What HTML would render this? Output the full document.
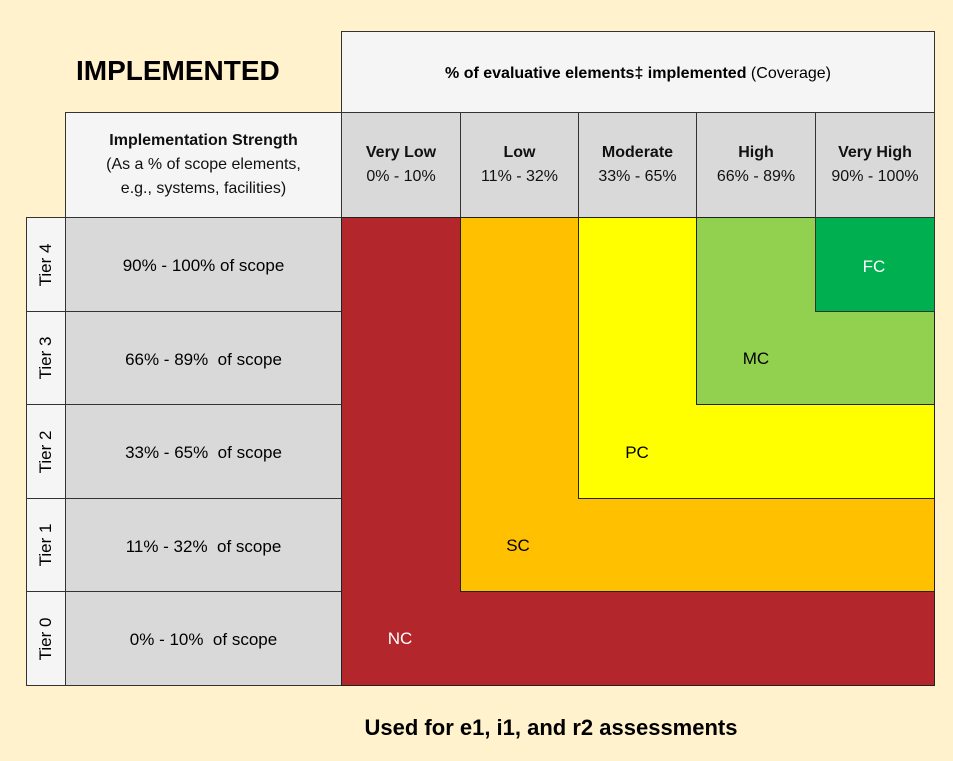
<!DOCTYPE html>
<html><head><meta charset="utf-8"><style>
body{margin:0;width:953px;height:761px;background:#FFF2CC;position:relative;overflow:hidden;font-family:"Liberation Sans",Arial,sans-serif;}
.a{position:absolute;box-sizing:border-box;}
.c{display:flex;align-items:center;justify-content:center;text-align:center;}
.g{background:#D9D9D9;border:1px solid #333;}
.w{background:#F5F5F5;border:1px solid #333;}
.t{position:absolute;transform:translate(-50%,-50%);font-size:17px;white-space:nowrap;}
.h{font-size:16px;line-height:24px;color:#111;}
</style></head><body>
<div class="a" style="left:76px;top:55px;font-size:28px;font-weight:bold;">IMPLEMENTED</div>
<div class="a w c" style="left:341px;top:31px;width:594px;height:82px;font-size:16px;padding-top:3px;"><span><b>% of evaluative elements‡ implemented</b> (Coverage)</span></div>
<div class="a w c h" style="left:65px;top:112px;width:277px;height:106px;"><span><b>Implementation Strength</b><br>(As a % of scope elements,<br>e.g., systems, facilities)</span></div>
<div class="a g c h" style="left:341px;top:112px;width:120px;height:106px;"><span><b>Very Low</b><br>0% - 10%</span></div>
<div class="a g c h" style="left:460px;top:112px;width:119px;height:106px;"><span><b>Low</b><br>11% - 32%</span></div>
<div class="a g c h" style="left:578px;top:112px;width:119px;height:106px;"><span><b>Moderate</b><br>33% - 65%</span></div>
<div class="a g c h" style="left:696px;top:112px;width:120px;height:106px;"><span><b>High</b><br>66% - 89%</span></div>
<div class="a g c h" style="left:815px;top:112px;width:120px;height:106px;"><span><b>Very High</b><br>90% - 100%</span></div>

<div class="a w" style="left:26px;top:217px;width:40px;height:95px;"></div>
<div class="a w" style="left:26px;top:311px;width:40px;height:94px;"></div>
<div class="a w" style="left:26px;top:404px;width:40px;height:95px;"></div>
<div class="a w" style="left:26px;top:498px;width:40px;height:94px;"></div>
<div class="a w" style="left:26px;top:591px;width:40px;height:95px;"></div>
<div class="t" style="left:46px;top:265px;transform:translate(-50%,-50%) rotate(-90deg);">Tier 4</div>
<div class="t" style="left:46px;top:358px;transform:translate(-50%,-50%) rotate(-90deg);">Tier 3</div>
<div class="t" style="left:46px;top:452px;transform:translate(-50%,-50%) rotate(-90deg);">Tier 2</div>
<div class="t" style="left:46px;top:545px;transform:translate(-50%,-50%) rotate(-90deg);">Tier 1</div>
<div class="t" style="left:46px;top:639px;transform:translate(-50%,-50%) rotate(-90deg);">Tier 0</div>

<div class="a g c" style="left:65px;top:217px;width:277px;height:95px;font-size:17px;padding-top:3px;">90% - 100% of scope</div>
<div class="a g c" style="left:65px;top:311px;width:277px;height:94px;font-size:17px;padding-top:3px;">66% - 89%&nbsp; of scope</div>
<div class="a g c" style="left:65px;top:404px;width:277px;height:95px;font-size:17px;padding-top:3px;">33% - 65%&nbsp; of scope</div>
<div class="a g c" style="left:65px;top:498px;width:277px;height:94px;font-size:17px;padding-top:3px;">11% - 32%&nbsp; of scope</div>
<div class="a g c" style="left:65px;top:591px;width:277px;height:95px;font-size:17px;padding-top:3px;">0% - 10%&nbsp; of scope</div>

<div class="a" style="left:341px;top:217px;width:594px;height:469px;background:#B3272C;border:1px solid #222;"></div>
<div class="a" style="left:460px;top:217px;width:475px;height:375px;background:#FFC000;border:1px solid #222;"></div>
<div class="a" style="left:578px;top:217px;width:357px;height:282px;background:#FFFF00;border:1px solid #222;"></div>
<div class="a" style="left:696px;top:217px;width:239px;height:188px;background:#92D050;border:1px solid #222;"></div>
<div class="a" style="left:815px;top:217px;width:120px;height:95px;background:#00B050;border:1px solid #333;"></div>
<div class="t" style="left:400px;top:639px;color:#fff;">NC</div>
<div class="t" style="left:518px;top:546px;">SC</div>
<div class="t" style="left:637px;top:453px;">PC</div>
<div class="t" style="left:756px;top:359px;">MC</div>
<div class="t" style="left:874px;top:267px;color:#fff;">FC</div>

<div class="t" style="left:551px;top:728px;font-size:22px;font-weight:bold;">Used for e1, i1, and r2 assessments</div>
</body></html>
